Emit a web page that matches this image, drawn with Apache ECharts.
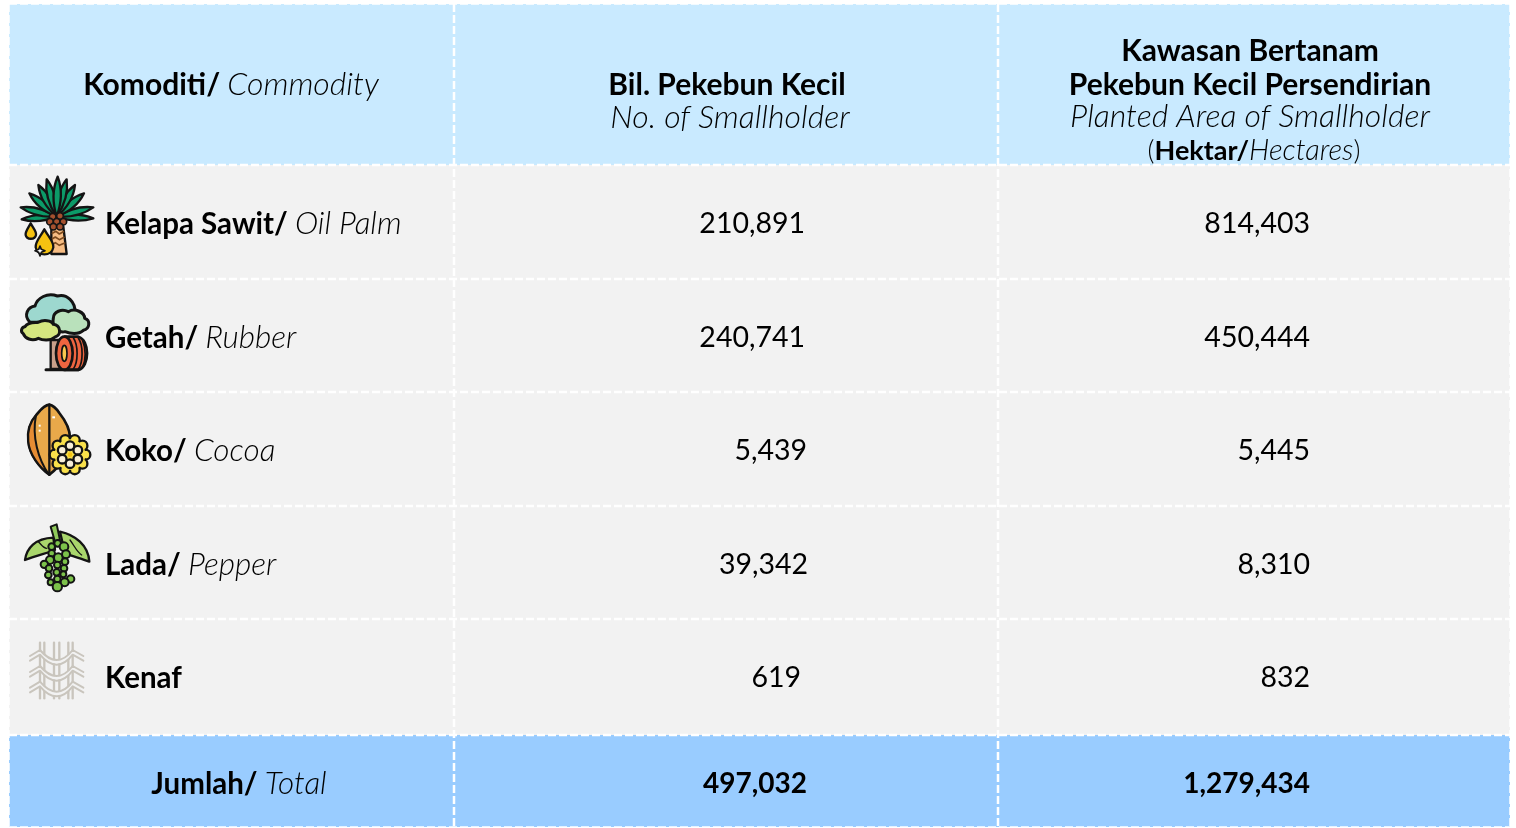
<!DOCTYPE html>
<html><head><meta charset="utf-8">
<style>html,body{margin:0;padding:0;background:#fff}#c{width:1516px;height:828px}</style>
<script src="https://cdn.jsdelivr.net/npm/echarts@6/dist/echarts.min.js"></script>
</head><body><div id="c"></div>
<script>
// ---- data ----
const commodityMs = ['Kelapa Sawit/', 'Getah/', 'Koko/', 'Lada/', 'Kenaf'];
const commodityEn = ['Oil Palm', 'Rubber', 'Cocoa', 'Pepper', ''];
const smallholders = [210891, 240741, 5439, 39342, 619];
const plantedArea = [814403, 450444, 5445, 8310, 832];
const totalLabelMs = 'Jumlah/';
const totalLabelEn = 'Total';
const totalSmallholders = 497032;
const totalPlantedArea = 1279434;
const headerCommodityMs = 'Komoditi/';
const headerCommodityEn = 'Commodity';
const headerCount = ['Bil. Pekebun Kecil', 'No. of Smallholder'];
const headerArea = ['Kawasan Bertanam', 'Pekebun Kecil Persendirian', 'Planted Area of Smallholder'];
const headerUnit = ['Hektar/', 'Hectares'];

// ---- layout (in canvas-sized axis units) ----
const columnEdges = [9, 454, 998, 1510];
const rowEdges = [4, 165, 279, 392, 506, 619, 735, 827];
const rowCentres = [224, 338, 451, 565, 678];
const countRight = [805, 805, 807, 808, 801];
const areaRight = [1310, 1310, 1310, 1310, 1310];
const iconOrigins = [[10, 170], [10, 285], [10, 398], [10, 515], [10, 630]];
const FONT = 'Lato';
const C_HEAD = '#c9eaff', C_BODY = '#f2f2f2', C_TOTAL = '#99ccff';

// ---- cells ----
const cells = [];
for (let r = 0; r < rowEdges.length - 1; r++) {
  for (let c = 0; c < columnEdges.length - 1; c++) {
    const color = r === 0 ? C_HEAD : (r === rowEdges.length - 2 ? C_TOTAL : C_BODY);
    cells.push({ value: [columnEdges[c], rowEdges[r], columnEdges[c + 1], rowEdges[r + 1]], color });
  }
}
// ---- rules ----
const rules = [];
rowEdges.forEach((y, i) => rules.push([columnEdges[0], y, columnEdges[3], y, (i === 0 || i === 7) ? 1.5 : 2.5]));
columnEdges.forEach((x, i) => rules.push([x, rowEdges[0], x, rowEdges[7], (i === 0 || i === 3) ? 1.5 : 2.5]));

// ---- text ----
const fmt = n => n.toLocaleString('en-US');
const rich = {
  b: { fontFamily: FONT, fontWeight: 700, fontSize: 29.5, color: '#262222' },
  i: { fontFamily: FONT, fontStyle: 'italic', fontWeight: 300, fontSize: 31.5, color: '#333333' },
  k: { fontFamily: FONT, fontWeight: 700, fontSize: 30, color: '#000000' },
  j: { fontFamily: FONT, fontStyle: 'italic', fontWeight: 300, fontSize: 32, color: '#111111' },
  k2: { fontFamily: FONT, fontWeight: 700, fontSize: 27, color: '#000000' },
  j2: { fontFamily: FONT, fontStyle: 'italic', fontWeight: 300, fontSize: 29, color: '#111111' },
  p: { fontFamily: FONT, fontWeight: 300, fontSize: 27, color: '#111111' },
  n: { fontFamily: FONT, fontWeight: 400, fontSize: 28.5, color: '#333333' },
  m: { fontFamily: FONT, fontWeight: 700, fontSize: 28, color: '#111111' }
};
const texts = [];
const T = (x, y, align, text) => texts.push({ x, y, align, text });
T(231, 85, 'center', `{k|${headerCommodityMs}} {j|${headerCommodityEn}}`);
T(727, 85, 'center', `{k|${headerCount[0]}}`);
T(730, 118, 'center', `{j|${headerCount[1]}}`);
T(1250, 51, 'center', `{k|${headerArea[0]}}`);
T(1250, 85, 'center', `{k|${headerArea[1]}}`);
T(1250, 117, 'center', `{j|${headerArea[2]}}`);
T(1254, 151, 'center', `{p|(}{k2|${headerUnit[0]}}{j2|${headerUnit[1]}}{p|)}`);
commodityMs.forEach((m, i) => {
  T(105, rowCentres[i], 'left', commodityEn[i] ? `{b|${m}} {i|${commodityEn[i]}}` : `{b|${m}}`);
  T(countRight[i], rowCentres[i], 'right', `{n|${fmt(smallholders[i])}}`);
  T(areaRight[i], rowCentres[i], 'right', `{n|${fmt(plantedArea[i])}}`);
});
T(239, 784, 'center', `{b|${totalLabelMs}} {i|${totalLabelEn}}`);
T(807, 784, 'right', `{m|${fmt(totalSmallholders)}}`);
T(1310, 784, 'right', `{m|${fmt(totalPlantedArea)}}`);

// ---- icon drawings (300-unit box, scaled 1/3) ----
const K = '#141414';
const P = (d, fill, lw, stroke) => ({ type: 'path', shape: { pathData: d }, style: { fill: fill || 'none', stroke: stroke === undefined ? K : stroke, lineWidth: lw === undefined ? 8 : lw, lineJoin: 'round', lineCap: 'round' } });
const O = (cx, cy, r, fill, lw) => ({ type: 'circle', shape: { cx, cy, r }, style: { fill, stroke: K, lineWidth: lw === undefined ? 6 : lw } });
const E = (cx, cy, rx, ry, fill, lw) => ({ type: 'ellipse', shape: { cx, cy, rx, ry }, style: { fill, stroke: K, lineWidth: lw === undefined ? 6 : lw } });
const leaf = (bx, by, tx, ty, w) => {
  const dx = tx - bx, dy = ty - by, mx = bx + dx * .55, my = by + dy * .55, L = Math.hypot(dx, dy), nx = -dy / L * w, ny = dx / L * w;
  return `M${bx},${by} Q${mx + nx},${my + ny} ${tx},${ty} Q${mx - nx},${my - ny} ${bx},${by} Z`;
};
const palmTips = [[35, 148, 18], [32, 112, 20], [58, 70, 22], [85, 45, 22], [110, 28, 22], [250, 145, 18], [250, 112, 20], [222, 70, 22], [195, 45, 22], [170, 28, 22], [143, 20, 22]];
const palm = palmTips.map(t => P(leaf(140, 140, t[0], t[1], t[2]), '#0c9a68', 7));
palm.push(P('M124,170 L160,170 L170,252 L124,252 Z', '#f6bd84', 7));
palm.push(P('M127,190 L138,184 L148,192 L160,185 M126,207 L136,201 L148,209 L162,202 M126,224 L136,218 L148,226 L164,219', 'none', 5, '#7b4a1e'));
[[128, 140], [150, 138], [120, 155], [140, 155], [160, 155], [130, 170], [150, 170]].forEach(c => palm.push(O(c[0], c[1], 10, '#a5512f', 5)));
palm.push(P('M62,160 C52,178 45,185 47,195 C50,210 75,210 78,195 C80,185 72,178 62,160 Z', '#f5c211', 7));
palm.push(P('M103,178 C90,202 75,215 77,232 C82,260 125,260 130,232 C132,215 115,200 103,178 Z', '#f5c211', 7));
palm.push(P('M90,228 L94,238 L105,242 L94,247 L90,258 L86,247 L75,242 L86,238 Z', '#fff', 5));

const rubber = [
  P('M122,165 L150,165 L150,252 L122,252 Z', '#c9a08a', 7),
  P('M60,112 C38,90 55,65 75,63 C82,38 112,22 142,33 C170,25 198,50 195,85 L195,112 Z', '#9dd8cf', 9),
  P('M130,100 C130,80 155,70 175,80 C195,68 224,82 224,100 C242,105 240,132 220,136 C205,150 180,146 165,140 C148,145 124,125 130,100 Z', '#b9e1bb', 9),
  P('M45,125 C55,110 75,114 85,112 C100,103 125,106 130,118 C152,120 156,152 135,156 C120,170 95,165 85,160 C65,170 45,160 40,146 C30,140 35,125 45,125 Z', '#d5e680', 9),
  P('M165,155 L205,155 C240,165 240,245 205,255 L165,255 Z', '#ef6540', 8),
  P('M190,158 C205,180 205,232 190,252 M205,160 C220,180 220,232 205,252 M218,168 C228,190 228,225 218,246', 'none', 5),
  E(163, 205, 25, 50, '#ef6540', 8),
  E(163, 205, 8, 24, '#f9c74f', 5),
  P('M108,254 L205,254', 'none', 9)
];

const flowerLobes = [];
for (let a = 0; a < 10; a++) flowerLobes.push(O(180 + 46 * Math.cos(a * Math.PI / 5), 170 + 46 * Math.sin(a * Math.PI / 5), 15, '#f9e04b', 7));
const petals = [];
for (let a = 0; a < 6; a++) petals.push(O(180 + 27 * Math.cos(a * Math.PI / 3 - Math.PI / 2), 170 + 27 * Math.sin(a * Math.PI / 3 - Math.PI / 2), 13, '#f8efd8', 7));
const cocoa = [
  P('M118,20 C100,22 90,38 78,52 C60,72 52,100 55,130 C58,170 90,210 118,230 C150,205 180,170 180,120 C180,85 160,60 148,45 C138,30 128,22 118,20 Z', '#e9a94a', 8),
  P('M78,52 C60,72 52,100 55,130 C58,170 90,210 116,228 C85,185 65,115 78,52 Z', '#e58c34', 6),
  P('M118,20 L118,230', 'none', 7),
  { type: 'rect', shape: { x: 127, y: 55, width: 8, height: 6 }, style: { fill: '#fff' } },
  { type: 'rect', shape: { x: 86, y: 80, width: 6, height: 6 }, style: { fill: '#fff' } },
  { type: 'rect', shape: { x: 86, y: 95, width: 6, height: 6 }, style: { fill: '#fff' } },
  ...flowerLobes,
  { type: 'circle', shape: { cx: 180, cy: 170, r: 46 }, style: { fill: '#f9e04b', stroke: 'none' } },
  ...petals,
  { type: 'circle', shape: { cx: 180, cy: 170, r: 7 }, style: { fill: '#f5c211', stroke: 'none' } }
];

const pepperBerries = [[125, 95, 10], [143, 85, 10], [162, 95, 13], [125, 115, 10], [145, 128, 13], [168, 118, 12], [120, 135, 12], [103, 148, 11], [165, 140, 10], [142, 150, 10], [117, 160, 10], [162, 160, 10], [140, 172, 10], [115, 180, 10], [160, 178, 9], [142, 192, 10], [122, 202, 9], [182, 192, 11], [164, 202, 12], [142, 215, 14]];
const pepper = [
  P('M45,135 C50,100 75,70 130,68 L135,105 C110,115 80,120 45,135 Z', '#a9d66c', 7),
  P('M150,50 C195,60 235,90 238,140 C215,130 190,125 165,115 Z', '#a9d66c', 7),
  P('M85,80 C95,90 100,100 110,100 M180,75 C195,95 200,110 215,120', 'none', 4),
  P('M122,35 L140,28 L150,75 L135,80 Z', '#8fc95a', 6),
  ...pepperBerries.map(b => O(b[0], b[1], b[2], '#7cc24a', 6))
];

const G = '#c9c5bd', BG = '#f2f2f2';
const kenaf = [];
[90, 103, 132, 148, 175, 188].forEach(x => kenaf.push(P(`M${x},38 L${x},205`, 'none', 7, G)));
[70, 118, 165].forEach(y => {
  const wave = o => `M60,${y + 8 + o} L90,${y - 10 + o} Q115,${y + 20 + o} 140,${y + 20 + o} Q165,${y + 20 + o} 188,${y - 10 + o} L220,${y + 8 + o}`;
  kenaf.push(P(wave(7), 'none', 9, BG));
  [0, 14].forEach(o => kenaf.push(P(wave(o), 'none', 6, G)));
});
const icons = [palm, rubber, cocoa, pepper, kenaf];

const option = {
  animation: false,
  backgroundColor: '#ffffff',
  grid: { left: 0, right: 0, top: 0, bottom: 0 },
  xAxis: { type: 'value', min: 0, max: 1516, show: false },
  yAxis: { type: 'value', min: 0, max: 828, inverse: true, show: false },
  series: [
    {
      type: 'custom', silent: true, coordinateSystem: 'cartesian2d', data: cells,
      renderItem: (p, api) => {
        const a = api.coord([api.value(0), api.value(1)]), b = api.coord([api.value(2), api.value(3)]);
        return { type: 'rect', shape: { x: a[0], y: a[1], width: b[0] - a[0], height: b[1] - a[1] }, style: { fill: cells[p.dataIndex].color } };
      }
    },
    {
      type: 'custom', silent: true, coordinateSystem: 'cartesian2d', data: rules,
      renderItem: (p, api) => {
        const a = api.coord([api.value(0), api.value(1)]), b = api.coord([api.value(2), api.value(3)]);
        return { type: 'line', shape: { x1: a[0], y1: a[1], x2: b[0], y2: b[1] }, style: { stroke: '#ffffff', lineWidth: api.value(4), lineDash: [8, 3] } };
      }
    },
    {
      type: 'custom', silent: true, coordinateSystem: 'cartesian2d', data: iconOrigins,
      renderItem: (p, api) => {
        const a = api.coord([api.value(0), api.value(1)]);
        return { type: 'group', x: a[0], y: a[1], scaleX: 1 / 3, scaleY: 1 / 3, children: icons[p.dataIndex] };
      }
    },
    {
      type: 'custom', silent: true, coordinateSystem: 'cartesian2d',
      data: texts.map(t => [t.x, t.y]),
      renderItem: (p, api) => {
        const t = texts[p.dataIndex], a = api.coord([api.value(0), api.value(1)]);
        return { type: 'text', x: a[0], y: a[1], style: { text: t.text, rich, align: t.align, verticalAlign: 'middle', fontFamily: FONT, fontSize: 28 } };
      }
    }
  ]
};
echarts.init(document.getElementById('c'), null, { renderer: 'canvas' }).setOption(option);
</script></body></html>
